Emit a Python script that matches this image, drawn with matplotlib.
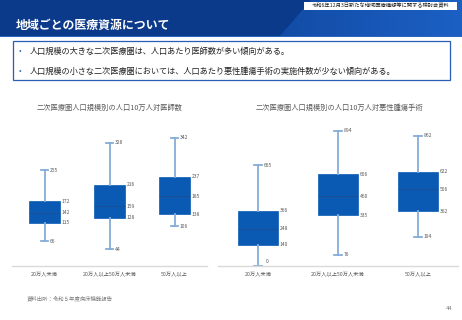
"""
Slide: 地域ごとの医療資源について (two box plots)
"""

import numpy as np
import matplotlib
matplotlib.use("Agg")
import matplotlib.pyplot as plt
from matplotlib.patches import Rectangle, Polygon

plt.rcParams['font.family'] = ['Noto Sans CJK JP', 'DejaVu Sans']

# data
categories = ['20万人未満', '20万人以上50万人未満', '50万人以上']

doc_whislo = [66, 44, 106]
doc_q1 = [115, 128, 138]
doc_med = [142, 159, 185]
doc_q3 = [172, 216, 237]
doc_whishi = [255, 328, 342]

surg_whislo = [0, 76, 194]
surg_q1 = [140, 335, 362]
surg_med = [248, 460, 506]
surg_q3 = [366, 606, 622]
surg_whishi = [665, 894, 862]

header_title = '地域ごとの医療資源について'
header_note = '令和6年12月3日新たな地域医療構想等に関する検討会資料'
bullets = ['人口規模の大きな二次医療圏は、人口あたり医師数が多い傾向がある。',
           '人口規模の小さな二次医療圏においては、人口あたり悪性腫瘍手術の実施件数が少ない傾向がある。']
title_left = '二次医療圏人口規模別の人口10万人対医師数'
title_right = '二次医療圏人口規模別の人口10万人対悪性腫瘍手術'
source = '資料出所：令和５年度病床機能報告'
page_no = '44'

W, H = 462, 320
BOX_C = '#0a5ab4'
WHISK_C = '#86acd9'
TXT_C = '#595959'


def px_axes(fig, x0, y0, x1, y1):
    """axes placed with pixel coords (top-left origin)"""
    return fig.add_axes([x0 / W, 1 - y1 / H, (x1 - x0) / W, (y1 - y0) / H])


def draw_box(ax, wlo, q1, med, q3, whi, width, capw, ymax):
    stats = []
    for i in range(len(categories)):
        stats.append(dict(whislo=wlo[i], q1=q1[i], med=med[i], q3=q3[i],
                          whishi=whi[i], fliers=[]))
    pos = np.arange(len(categories))
    ax.bxp(stats, positions=pos, widths=width, capwidths=capw,
           patch_artist=True, showfliers=False,
           boxprops=dict(facecolor=BOX_C, edgecolor=BOX_C, linewidth=0.5),
           medianprops=dict(color='#1e4f92', linewidth=0.6),
           whiskerprops=dict(color=WHISK_C, linewidth=1.3),
           capprops=dict(color=WHISK_C, linewidth=1.3))
    off = 0.02
    for i, p in enumerate(pos):
        ax.text(p + capw / 2 + off, whi[i], str(whi[i]), fontsize=3.6,
                color=TXT_C, va='center', ha='left')
        if wlo[i] == 0:
            ax.text(p + 0.1, wlo[i] + ymax * 0.015, str(wlo[i]), fontsize=3.6,
                    color=TXT_C, va='bottom', ha='left')
        else:
            ax.text(p + capw / 2 + off, wlo[i], str(wlo[i]), fontsize=3.6,
                    color=TXT_C, va='center', ha='left')
        for v in (q1[i], med[i], q3[i]):
            ax.text(p + width / 2 + off, v, str(v), fontsize=3.6,
                    color=TXT_C, va='center', ha='left')
    ax.set_xlim(-0.5, len(categories) - 0.5)
    ax.set_ylim(0, ymax)
    ax.set_xticks(pos)
    ax.set_xticklabels(categories, fontsize=3.8, color=TXT_C)
    ax.tick_params(axis='x', length=0, pad=4)
    ax.set_yticks([])
    for s in ('top', 'left', 'right'):
        ax.spines[s].set_visible(False)
    ax.spines['bottom'].set_color('#d9d9d9')
    ax.spines['bottom'].set_linewidth(1.0)
    ax.patch.set_alpha(0)


fig = plt.figure(figsize=(W / 100, H / 100), dpi=100)

# background / slide decoration
bg = fig.add_axes([0, 0, 1, 1])
bg.set_xlim(0, W)
bg.set_ylim(H, 0)
bg.axis('off')

bg.add_patch(Rectangle((0, 0), W, 36, color='#0c3a8a', lw=0))
grad = np.linspace(0, 1, 256).reshape(1, -1)
cmap = matplotlib.colors.LinearSegmentedColormap.from_list('hdr', ['#124ca6', '#1c60c4'])
im = bg.imshow(grad, extent=(280, W, 36, 0), cmap=cmap, aspect='auto', zorder=1)
im.set_clip_path(Polygon([(280, 36), (311, 0), (W, 0), (W, 36)],
                         closed=True, transform=bg.transData))
bg.set_xlim(0, W)
bg.set_ylim(H, 0)
bg.add_patch(Rectangle((0, 36), W, 1.2, color='#2a66c2', lw=0, zorder=2))

bg.add_patch(Rectangle((304, 2), 153, 7.5, facecolor='white', edgecolor='none', zorder=3))
bg.text(380.5, 5.9, header_note, fontsize=3.8, color='#222222',
        ha='center', va='center', zorder=4)
bg.text(16, 25, header_title, fontsize=8.6, color='white', fontweight='bold',
        ha='left', va='center', zorder=4)

bg.add_patch(Rectangle((13, 41), 437, 39, facecolor='white', edgecolor='#2a5db5',
                       lw=0.9, zorder=3))
for i, b in enumerate(bullets):
    y = 51 + i * 20
    bg.text(19, y, '•', fontsize=5.5, color='#2a5db5', ha='left', va='center', zorder=4)
    bg.text(30, y, b, fontsize=5.9, color='#222222', ha='left', va='center', zorder=4)

bg.text(110, 108, title_left, fontsize=5.2, color=TXT_C, ha='center', va='center')
bg.text(339, 108, title_right, fontsize=5.2, color=TXT_C, ha='center', va='center')
bg.text(27, 298, source, fontsize=3.9, color='#7f7f7f', ha='left', va='center')
bg.text(452, 308, page_no, fontsize=4.2, color='#7f7f7f', ha='right', va='center')

# charts
ax1 = px_axes(fig, 12, 266 - 400 * 0.3757, 207, 266)
draw_box(ax1, doc_whislo, doc_q1, doc_med, doc_q3, doc_whishi,
         width=0.49, capw=0.12, ymax=400)

ax2 = px_axes(fig, 218, 266 - 1000 * 0.1512, 458, 266)
draw_box(ax2, surg_whislo, surg_q1, surg_med, surg_q3, surg_whishi,
         width=0.5, capw=0.1, ymax=1000)

fig.savefig('out.png', dpi=100)
